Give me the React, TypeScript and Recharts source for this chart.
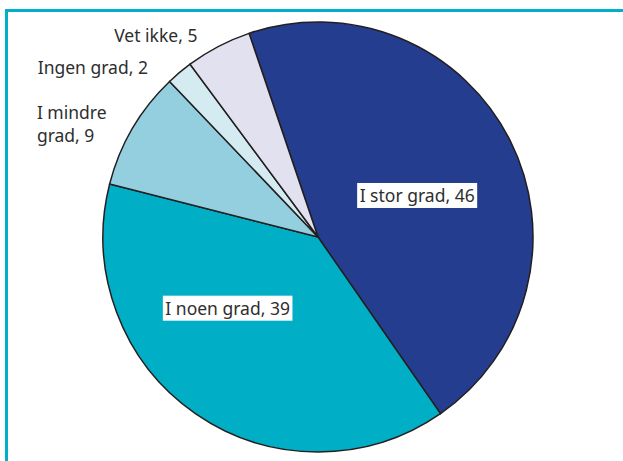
import { PieChart, Pie, Cell } from 'recharts'

const categories = ['I stor grad', 'I noen grad', 'I mindre grad', 'Ingen grad', 'Vet ikke']
const values = [46, 39, 9, 2, 5]
const colors = ['#253d8e', '#00afc6', '#93cfdf', '#d3ebf1', '#e1e1ef']

// label placement per slice (inside = boxed label in the slice)
const labelInside = [true, true, false, false, false]
const labelRadius = [0.5, 0.535, 1.117, 1.117, 1.095]
const labelShift = [-4, -17, 2, 5, 3.2]
const labelLines = [
  ['I stor grad, 46'],
  ['I noen grad, 39'],
  ['I mindre', 'grad, 9'],
  ['Ingen grad, 2'],
  ['Vet ikke, 5'],
]

const FONT = '"Noto Sans", sans-serif'
const FONT_SIZE = 17.5
const RAD = Math.PI / 180

let ctx: CanvasRenderingContext2D | null = null
function textWidth(s: string) {
  if (!ctx) ctx = document.createElement('canvas').getContext('2d')
  if (!ctx) return s.length * 8
  ctx.font = `${FONT_SIZE}px "Noto Sans"`
  return ctx.measureText(s).width
}

const data = categories.map((name, i) => ({ name, value: values[i] }))

function renderLabel(props: any) {
  const { cx, cy, outerRadius, midAngle, index } = props
  const r = outerRadius * labelRadius[index]
  const a = (midAngle + labelShift[index]) * RAD
  const x = cx + r * Math.cos(a)
  const y = cy - r * Math.sin(a)
  const lines = labelLines[index]

  if (labelInside[index]) {
    const w = textWidth(lines[0])
    return (
      <g key={`l${index}`}>
        <rect x={x - w / 2 - 2.5} y={y - 12.5} width={w + 5} height={25} fill="#fff" />
        <text x={x} y={y} textAnchor="middle" dominantBaseline="central" fill="#2e2e2e" fontSize={FONT_SIZE} fontFamily={FONT}>
          {lines[0]}
        </text>
      </g>
    )
  }

  // outside labels: right edge at the anchor point, lines left-aligned
  const w = Math.max(...lines.map(textWidth))
  const lh = 23
  const top = y - ((lines.length - 1) * lh) / 2
  return (
    <text key={`l${index}`} x={x - w} y={top} textAnchor="start" dominantBaseline="central" fill="#2e2e2e" fontSize={FONT_SIZE} fontFamily={FONT}>
      {lines.map((ln, j) => (
        <tspan key={j} x={x - w} y={top + j * lh}>
          {ln}
        </tspan>
      ))}
    </text>
  )
}

export default function App() {
  return (
    <div style={{ position: 'absolute', left: 0, top: 0, width: 623, height: 461, overflow: 'hidden', background: '#fff' }}>
      <div
        style={{
          position: 'absolute',
          left: 5,
          top: 9,
          width: 700,
          height: 600,
          border: '3.5px solid #00b0c8',
        }}
      />
      <div style={{ position: 'absolute', left: 0, top: 0 }}>
        <PieChart width={623} height={461} margin={{ top: 0, right: 0, bottom: 0, left: 0 }}>
          <Pie
            data={data}
            dataKey="value"
            nameKey="name"
            cx={318}
            cy={237}
            outerRadius={215}
            startAngle={108.7}
            endAngle={-251.3}
            stroke="#231f20"
            strokeWidth={1.5}
            label={renderLabel}
            labelLine={false}
            isAnimationActive={false}
          >
            {data.map((d, i) => (
              <Cell key={d.name} fill={colors[i]} />
            ))}
          </Pie>
        </PieChart>
      </div>
    </div>
  )
}
